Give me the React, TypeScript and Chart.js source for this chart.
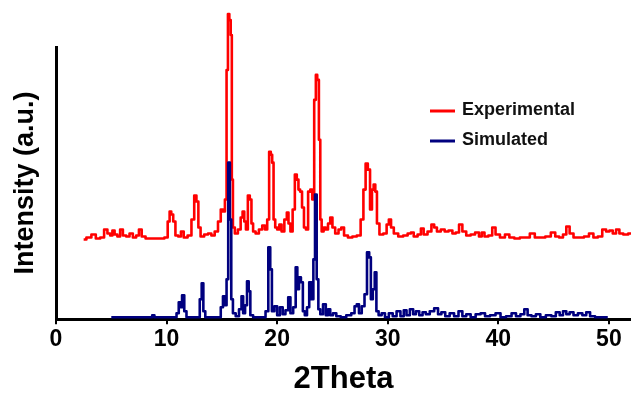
import React, { useEffect, useRef } from "react";
import { Chart, registerables } from "chart.js";

Chart.register(...registerables);

const seriesLabels = ["Experimental", "Simulated"];
const xTicks = [0, 10, 20, 30, 40, 50];
const xTitle = "2Theta";
const yTitle = "Intensity (a.u.)";

const expTheta = [
  2.5, 3.0, 3.4, 3.8, 4.2, 4.5, 4.8, 5.0, 5.2, 5.4, 5.7, 5.9, 6.2, 6.5, 6.8, 7.1, 7.4, 7.6, 7.9, 8.3,
  9.0, 9.6, 10.0, 10.2, 10.35, 10.5, 10.7, 10.9, 11.2, 11.4, 11.7, 12.1, 12.4, 12.6, 12.8, 12.95, 13.2,
  13.6, 13.9, 14.2, 14.5, 14.8, 15.0, 15.2, 15.35, 15.5, 15.6, 15.75, 15.85, 15.95, 16.05, 16.3, 16.6,
  16.8, 16.95, 17.1, 17.25, 17.45, 17.6, 17.75, 17.9, 18.2, 18.5, 18.8, 19.0, 19.2, 19.35, 19.5, 19.6,
  19.75, 19.9, 20.1, 20.3, 20.5, 20.8, 20.95, 21.1, 21.3, 21.5, 21.7, 21.85, 22.0, 22.15, 22.35, 22.5,
  22.7, 22.9, 23.1, 23.25, 23.45, 23.55, 23.7, 23.85, 23.95, 24.1, 24.3, 24.5, 24.7, 24.9, 25.1, 25.4,
  25.7, 25.9, 26.2, 26.6, 27.0, 27.4, 27.7, 27.9, 28.1, 28.3, 28.5, 28.65, 28.8, 28.95, 29.1, 29.4,
  29.8, 30.0, 30.2, 30.4, 30.7, 31.2, 31.6, 32.0, 32.2, 32.5, 32.9, 33.1, 33.4, 33.8, 34.1, 34.3, 34.6,
  35.0, 35.3, 35.7, 36.0, 36.3, 36.6, 36.9, 37.3, 37.7, 38.1, 38.4, 38.6, 38.9, 39.3, 39.6, 39.9, 40.4,
  40.8, 41.2, 41.7, 42.2, 42.6, 43.1, 43.5, 44.0, 44.5, 45.0, 45.3, 45.7, 46.0, 46.3, 46.6, 47.0, 47.5,
  48.0, 48.4, 48.8, 49.2, 49.6, 49.9, 50.2, 50.5, 50.8, 51.1, 51.5, 52.0,
];
const expIntensity = [
  80, 82, 85, 81, 82, 90, 86, 84, 89, 85, 83, 90, 84, 83, 86, 82, 84, 90, 83, 81,
  81, 81, 82, 98, 108, 105, 98, 84, 83, 88, 82, 84, 100, 124, 118, 92, 83,
  85, 86, 84, 88, 98, 110, 108, 120, 250, 306, 300, 285, 140, 92, 86, 90,
  102, 108, 98, 90, 124, 120, 96, 88, 86, 90, 94, 90, 100, 168, 165, 157,
  100, 92, 90, 95, 88, 100, 107, 96, 88, 110, 145, 140, 130, 128, 112, 92,
  90, 128, 130, 120, 220, 245, 240, 180, 100, 88, 92, 90, 96, 102, 92, 86,
  90, 92, 84, 82, 83, 84, 100, 130, 156, 150, 110, 130, 135, 128, 96, 85,
  86, 95, 100, 92, 86, 83, 84, 86, 87, 83, 85, 91, 85, 88, 95, 92, 88,
  90, 88, 89, 86, 87, 95, 88, 84, 85, 87, 83, 87, 83, 84, 92, 85, 82,
  85, 82, 81, 82, 82, 86, 82, 82, 83, 87, 83, 82, 85, 93, 86, 82, 82,
  83, 86, 82, 83, 90, 88, 89, 86, 90, 86, 85, 86,
];

const simTheta = [
  5.0, 8.6, 8.8, 9.0, 10.8, 11.0, 11.2, 11.3, 11.5, 11.7, 11.9, 12.9, 13.1, 13.25, 13.4, 13.6, 14.8,
  15.0, 15.2, 15.35, 15.5, 15.65, 15.8, 15.9, 16.1, 16.4, 16.7, 16.85, 17.0, 17.2, 17.35, 17.5, 17.65,
  18.0, 18.8, 19.1, 19.3, 19.45, 19.6, 19.9, 20.1, 20.4, 20.6, 20.9, 21.1, 21.3, 21.6, 21.75, 21.9,
  22.05, 22.25, 22.4, 22.6, 22.8, 23.0, 23.2, 23.35, 23.5, 23.65, 23.8, 24.0, 24.3, 24.5, 24.7, 24.9,
  25.2, 25.5, 26.0, 26.5, 26.9, 27.1, 27.3, 27.5, 27.8, 28.0, 28.25, 28.4, 28.55, 28.75, 28.9, 29.05,
  29.3, 29.6, 29.9, 30.3, 30.6, 31.0, 31.3, 31.6, 31.8, 32.2, 32.4, 32.7, 33.0, 33.3, 33.6, 34.0, 34.4,
  34.7, 35.0, 35.4, 35.8, 36.2, 36.6, 36.9, 37.3, 37.7, 38.2, 38.6, 39.0, 39.5, 40.0, 40.4, 41.0, 41.4,
  41.8, 42.2, 42.5, 42.8, 43.2, 43.6, 44.0, 44.6, 45.0, 45.4, 45.7, 46.0, 46.3, 46.6, 47.0, 47.4, 47.8,
  48.1, 48.5, 49.0, 49.9,
];
const simIntensity = [
  2, 2, 4, 2, 2, 6, 17, 12, 24, 8, 2, 2, 20, 36, 8, 2, 2,
  12, 23, 14, 40, 157, 100, 20, 6, 3, 10, 23, 6, 14, 38, 28, 4,
  2, 2, 8, 72, 50, 8, 13, 4, 12, 5, 9, 22, 6, 12, 52, 30,
  42, 37, 8, 4, 12, 37, 20, 60, 125, 40, 10, 5, 15, 4, 10, 4,
  6, 3, 2, 4, 6, 13, 15, 6, 13, 25, 67, 62, 20, 30, 47, 8,
  4, 6, 2, 6, 3, 8, 3, 9, 4, 10, 5, 8, 4, 7, 5, 8, 11,
  5, 7, 3, 6, 3, 8, 3, 5, 2, 5, 6, 3, 4, 6, 2, 3, 6,
  3, 5, 10, 4, 3, 5, 2, 4, 3, 7, 4, 8, 5, 7, 4, 6, 4,
  7, 3, 2, 2,
];

const FONT = "'Liberation Sans', Arial, Helvetica, sans-serif";

export default function App() {
  const ref = useRef<HTMLCanvasElement>(null);

  useEffect(() => {
    if (!ref.current) return;
    const legendPlugin = {
      id: "customLegend",
      afterDraw(chart: any) {
        const ctx = chart.ctx;
        const rows = [110, 140];
        ctx.save();
        chart.data.datasets.forEach((ds: any, i: number) => {
          const y = rows[i];
          ctx.strokeStyle = ds.borderColor;
          ctx.lineWidth = 3;
          ctx.beginPath();
          ctx.moveTo(430, y + 1);
          ctx.lineTo(455, y + 1);
          ctx.stroke();
          ctx.fillStyle = "#111";
          ctx.font = `bold 18px ${FONT}`;
          ctx.textBaseline = "middle";
          ctx.textAlign = "left";
          ctx.fillText(ds.label, 462, y);
        });
        ctx.restore();
      },
    };

    const chart = new Chart(ref.current, {
      type: "line",
      data: {
        datasets: [
          {
            label: seriesLabels[0],
            data: expTheta.map((x, i) => ({ x, y: expIntensity[i] })),
            borderColor: "#ff0000",
            borderWidth: 2.6,
            borderJoinStyle: "round",
            pointRadius: 0,
            stepped: "middle",
            clip: false as any,
            order: 1,
          },
          {
            label: seriesLabels[1],
            data: simTheta.map((x, i) => ({ x, y: simIntensity[i] })),
            borderColor: "#00007f",
            borderWidth: 2.6,
            borderJoinStyle: "round",
            pointRadius: 0,
            stepped: "middle",
            clip: false as any,
            order: 0,
          },
        ],
      },
      options: {
        responsive: false,
        animation: false,
        events: [],
        layout: { padding: { top: 47, left: 0, right: 0, bottom: 0 } },
        scales: {
          x: {
            type: "linear",
            min: 0,
            max: 52,
            afterBuildTicks: (axis: any) => {
              axis.ticks = xTicks.map((v) => ({ value: v }));
            },
            ticks: {
              color: "#000",
              padding: 2,
              maxRotation: 0,
              font: { family: FONT, size: 23, weight: "bold" },
            },
            grid: {
              display: true,
              drawOnChartArea: false,
              drawTicks: true,
              tickLength: 5,
              color: "#000",
              lineWidth: 2,
            },
            border: { display: true, color: "#000", width: 3 },
            title: {
              display: true,
              text: xTitle,
              color: "#000",
              font: { family: FONT, size: 31, weight: "bold" },
              padding: { top: 5, bottom: 0 },
            },
          },
          y: {
            type: "linear",
            min: 0,
            max: 273,
            ticks: { display: false },
            grid: { display: false, drawTicks: false },
            border: { display: true, color: "#000", width: 3 },
            title: {
              display: true,
              text: yTitle,
              color: "#000",
              font: { family: FONT, size: 27, weight: "bold" },
              padding: { top: 9.8, bottom: 13.8 },
            },
          },
        },
        plugins: {
          legend: { display: false },
          tooltip: { enabled: false },
        },
      } as any,
      plugins: [legendPlugin],
    });
    return () => chart.destroy();
  }, []);

  return (
    <div
      style={{
        position: "absolute",
        left: 0,
        top: 0,
        width: 631,
        height: 398,
        background: "#fff",
      }}
    >
      <canvas ref={ref} width={631} height={398} />
    </div>
  );
}
